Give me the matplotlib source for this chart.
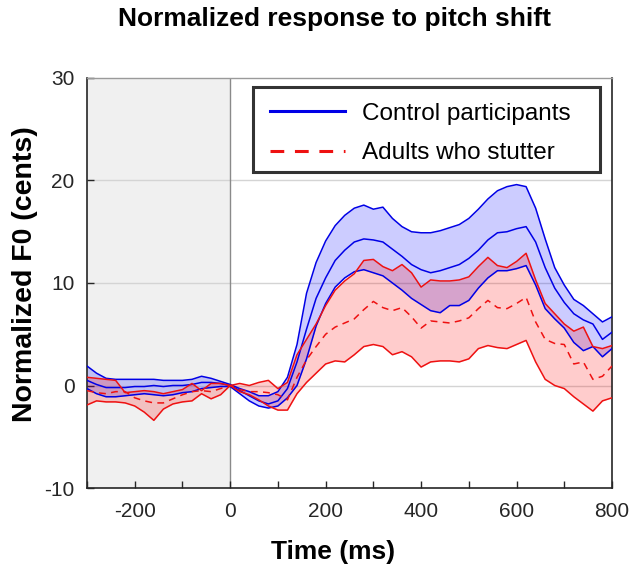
import matplotlib
matplotlib.use("Agg")
import matplotlib.pyplot as plt
from matplotlib.patches import Rectangle
import numpy as np

plt.rcParams['font.family'] = ['Liberation Sans', 'DejaVu Sans']
plt.rcParams['axes.unicode_minus'] = False

# time axis (ms), 20 ms steps
t = np.arange(-300, 801, 20)

# Control participants: upper CI, mean, lower CI (cents)
ctrl_upper = [1.9, 1.2, 0.7, 0.6, 0.6, 0.6, 0.6, 0.6, 0.5, 0.5, 0.5, 0.6, 0.9, 0.7, 0.4,
              0.1, -0.3, -0.6, -1.0, -1.0, -0.6, 0.8, 4.0, 9.0, 12.0, 14.1, 15.6, 16.6, 17.3,
              17.6, 17.2, 17.4, 16.3, 15.5, 15.0, 14.9, 14.9, 15.1, 15.4, 15.7, 16.3, 17.2,
              18.2, 19.0, 19.4, 19.6, 19.4, 17.3, 14.3, 11.5, 9.8, 8.4, 7.8, 7.0, 6.2, 6.7]
ctrl_mean = [0.5, 0.1, -0.2, -0.2, -0.2, -0.1, -0.1, 0.0, -0.1, 0.0, 0.0, 0.1, 0.3, 0.3, 0.2,
             0.0, -0.5, -1.0, -1.5, -1.8, -1.5, -0.3, 2.3, 5.5, 8.5, 10.5, 12.2, 13.2, 14.0,
             14.3, 14.2, 14.0, 13.3, 12.6, 11.8, 11.3, 11.0, 11.2, 11.5, 11.8, 12.4, 13.2,
             14.2, 14.9, 15.0, 15.3, 15.5, 14.0, 11.5, 9.5, 8.1, 7.0, 6.4, 6.0, 4.5, 5.2]
ctrl_lower = [-0.3, -0.8, -1.1, -1.1, -1.0, -0.9, -0.8, -0.9, -1.0, -0.9, -0.7, -0.6, -0.3,
              -0.2, -0.1, -0.1, -0.8, -1.5, -2.0, -2.2, -2.0, -1.2, 0.0, 2.6, 5.8, 8.0, 9.6,
              10.5, 11.1, 11.3, 11.0, 10.7, 10.0, 9.3, 8.5, 7.9, 7.3, 7.1, 7.8, 7.8, 8.3, 9.5,
              10.5, 11.2, 11.2, 11.4, 11.7, 9.8, 7.5, 6.5, 5.6, 4.2, 3.4, 3.8, 2.8, 3.6]

# Adults who stutter: upper CI, mean, lower CI (cents)
aws_upper = [0.8, 0.7, 0.6, 0.5, -0.7, -0.6, -0.5, -0.6, -0.8, -0.6, -0.4, 0.2, -0.5, 0.2,
             0.2, 0.0, 0.2, 0.0, 0.3, 0.5, -0.3, 0.3, 3.0, 4.5, 6.0, 7.8, 9.3, 10.2, 10.9,
             12.2, 12.3, 11.6, 11.2, 11.8, 11.0, 9.6, 10.3, 10.2, 10.2, 10.3, 10.6, 11.6,
             12.5, 11.7, 11.5, 12.1, 12.9, 10.3, 8.0, 7.0, 6.0, 5.3, 5.7, 3.8, 3.6, 3.9]
aws_mean = [-0.5, -0.7, -0.8, -0.6, -0.6, -1.2, -1.5, -1.7, -1.7, -1.3, -0.9, -0.6, -0.5,
            -0.6, -0.3, 0.0, -0.4, -0.6, -0.6, -0.7, -0.9, -1.4, 0.8, 2.5, 3.8, 5.0, 5.7,
            6.1, 6.5, 7.4, 8.2, 7.6, 7.3, 7.6, 6.7, 5.6, 6.3, 6.2, 6.1, 6.3, 6.6, 7.5, 8.3,
            7.6, 7.5, 8.0, 8.6, 6.2, 4.5, 4.1, 4.0, 2.1, 2.3, 0.6, 0.9, 1.9]
aws_lower = [-1.9, -1.5, -1.6, -1.6, -1.7, -2.0, -2.6, -3.4, -2.3, -1.8, -1.6, -1.5, -0.8,
             -1.3, -0.9, 0.0, -0.6, -0.9, -1.4, -2.0, -2.4, -2.4, -0.8, 0.3, 1.2, 2.1, 2.4,
             2.3, 3.0, 3.8, 4.0, 3.8, 3.0, 3.3, 2.8, 1.8, 2.3, 2.4, 2.4, 2.3, 2.6, 3.6, 3.9,
             3.7, 3.6, 4.0, 4.4, 2.3, 0.6, 0.0, -0.3, -1.1, -1.8, -2.5, -1.5, -1.2]

xticks = np.arange(-300, 801, 100)
xticklabels = ['' if v % 200 else str(v) for v in xticks]
yticks = [-10, 0, 10, 20, 30]

fig = plt.figure(figsize=(6.38, 5.73), dpi=100)
ax = fig.add_axes([87/638, 1 - 488/573, (612-87)/638, (488-78)/573])

# baseline window and reference lines
ax.axvspan(-300, 0, color='#f0f0f0', zorder=0, lw=0)
for yv in [0, 10, 20]:
    ax.axhline(yv, color='#d4d4d4', lw=1.0, zorder=1)
ax.axvline(0, color='#8a8a8a', lw=1.0, zorder=1)

blue = '#0000e6'
red = '#ee1111'

ax.fill_between(t, ctrl_lower, ctrl_upper, color='#0000ff', alpha=0.2, lw=0, zorder=2)
ax.fill_between(t, aws_lower, aws_upper, color='#ff0000', alpha=0.2, lw=0, zorder=2)

ax.plot(t, ctrl_upper, color=blue, lw=1.1, zorder=3)
ax.plot(t, ctrl_lower, color=blue, lw=1.1, zorder=3)
ax.plot(t, ctrl_mean, color=blue, lw=1.1, zorder=3, label='Control participants')
ax.plot(t, aws_upper, color=red, lw=1.1, zorder=4)
ax.plot(t, aws_lower, color=red, lw=1.1, zorder=4)
ax.plot(t, aws_mean, color=red, lw=1.1, ls=(0, (4.5, 3.5)), zorder=4, label='Adults who stutter')

ax.set_xlim(-300, 800)
ax.set_ylim(-10, 30)
ax.set_xticks(xticks)
ax.set_xticklabels(xticklabels)
ax.set_yticks(yticks)
ax.tick_params(direction='in', length=5, width=1.0, labelsize=15, colors='#262626', pad=10)
ax.tick_params(axis='y', pad=9)
for side in ['left', 'bottom', 'right']:
    ax.spines[side].set_color('#262626')
    ax.spines[side].set_linewidth(1.2)
ax.spines['top'].set_color('#9a9a9a')
ax.spines['top'].set_linewidth(1.0)

# legend box (MATLAB style, wider padding on the right)
ax.add_patch(Rectangle((0.316, 0.771), 0.661, 0.207, transform=ax.transAxes,
                       facecolor='white', edgecolor='#333333', lw=2.2, zorder=4.6))
leg = ax.legend(loc='upper left', bbox_to_anchor=(0.3486, 0.940), borderaxespad=0,
                borderpad=0, fontsize=17.5, handlelength=3.1, handletextpad=0.7,
                labelspacing=0.72, frameon=False)
leg.set_zorder(5)
for ln in leg.get_lines():
    ln.set_linewidth(2.2)

fig.text(334/638, 1 - 19/573, 'Normalized response to pitch shift', ha='center', va='center',
         fontsize=19, fontweight='bold')
fig.text(333/638, 1 - 552/573, 'Time (ms)', ha='center', va='center',
         fontsize=19, fontweight='bold')
fig.text(25/638, 1 - 274/573, 'Normalized F0 (cents)', ha='center', va='center',
         rotation=90, fontsize=20.5, fontweight='bold')

fig.savefig('out.png', dpi=100)
